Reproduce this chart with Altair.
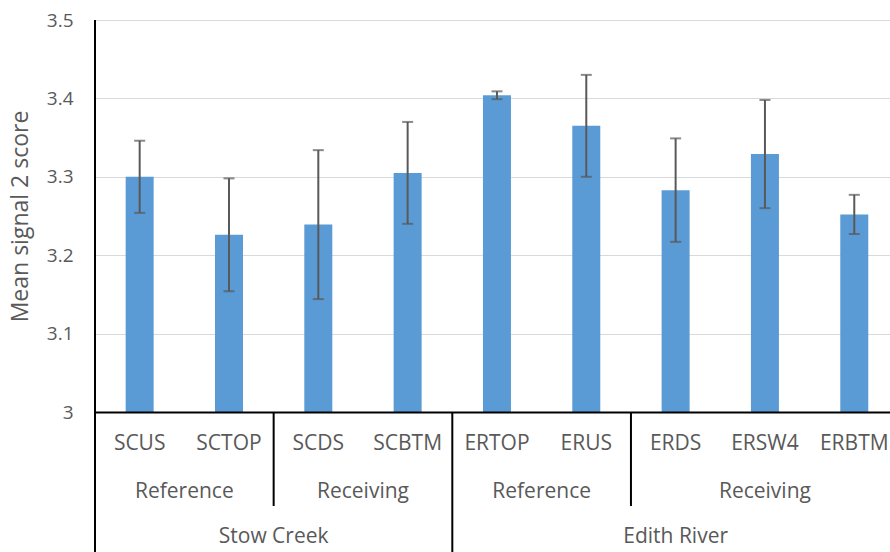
import altair as alt
import pandas as pd

# Sampling sites in plotting order, with their habitat class and river
sites = ["SCUS", "SCTOP", "SCDS", "SCBTM", "ERTOP", "ERUS", "ERDS", "ERSW4", "ERBTM"]
habitats = ["Reference", "Reference", "Receiving", "Receiving",
            "Reference", "Reference", "Receiving", "Receiving", "Receiving"]
rivers = ["Stow Creek"] * 4 + ["Edith River"] * 5

# Mean signal 2 score per site and the half-width of its error bar
means = [3.300, 3.226, 3.239, 3.305, 3.404, 3.365, 3.283, 3.329, 3.252]
errors = [0.046, 0.072, 0.095, 0.065, 0.005, 0.065, 0.066, 0.069, 0.025]

y_ticks = [3.0, 3.1, 3.2, 3.3, 3.4, 3.5]

TEXT = "#595959"
FONT = "Open Sans"
BLUE = "#5B9BD5"

df = pd.DataFrame({
    "site": sites,
    "habitat": habitats,
    "river": rivers,
    "mean": means,
    "err": errors,
})
df["pos"] = range(len(df))
df["lo"] = df["mean"] - df["err"]
df["hi"] = df["mean"] + df["err"]
df["base"] = y_ticks[0]

# Second and third rows of the category axis
hab = (df.groupby(["river", "habitat"], sort=False)
         .agg(pos=("pos", "mean"), end=("pos", "max")).reset_index())
riv = (df.groupby("river", sort=False)
         .agg(pos=("pos", "mean"), end=("pos", "max")).reset_index())

river_edges = sorted(riv["end"] + 0.5)
short_seps = pd.DataFrame({"b": [e + 0.5 for e in hab["end"] if e + 0.5 not in river_edges]})
river_seps = pd.DataFrame({"b": river_edges})
left_edge = pd.DataFrame({"b": [-0.5]})

xscale = alt.Scale(domain=[-0.5, 8.4], nice=False, zero=False, padding=0)
yscale = alt.Scale(domain=[3.0, 3.5], nice=False, zero=False, padding=0)

x = alt.X("pos:Q", scale=xscale,
          axis=alt.Axis(labels=False, ticks=False, grid=False, title=None,
                        domainColor="black", domainWidth=2, zindex=1))

base = alt.Chart(df)

bars = base.mark_bar(size=28, color=BLUE).encode(
    x=x,
    y=alt.Y("mean:Q", scale=yscale,
            axis=alt.Axis(values=y_ticks, labelExpr="format(datum.value, '.2~f')",
                          grid=True, gridColor="#d9d9d9", gridWidth=1,
                          domain=False, ticks=False, tickSize=0,
                          labelFont=FONT, labelFontSize=19, labelColor=TEXT,
                          labelPadding=22,
                          title="Mean signal 2 score", titleFont=FONT,
                          titleFontSize=23, titleColor=TEXT, titleFontWeight="normal",
                          titleAngle=270, titleX=-75, titleY=196,
                          titleAlign="center", titleBaseline="middle")),
    y2="base:Q",
)

whisker = base.mark_rule(color=TEXT, strokeWidth=2).encode(
    x=alt.X("pos:Q", scale=xscale), y=alt.Y("lo:Q", scale=yscale), y2="hi:Q"
)

caps = base.transform_fold(["lo", "hi"], as_=["end", "v"]).mark_tick(
    orient="horizontal", size=11, thickness=2, color=TEXT
).encode(x=alt.X("pos:Q", scale=xscale), y=alt.Y("v:Q", scale=yscale))

label_style = dict(font=FONT, fontSize=21, color=TEXT, baseline="middle")

site_text = base.mark_text(**label_style).encode(
    x=alt.X("pos:Q", scale=xscale), y=alt.value(424), text="site:N"
)

hab_text = alt.Chart(hab).mark_text(**label_style).encode(
    x=alt.X("pos:Q", scale=xscale), y=alt.value(472), text="habitat:N"
)

riv_text = alt.Chart(riv).mark_text(**label_style).encode(
    x=alt.X("pos:Q", scale=xscale), y=alt.value(517), text="river:N"
)

# Dividers between the groups of the category axis
short_lines = alt.Chart(short_seps).mark_rule(color="black", strokeWidth=2).encode(
    x=alt.X("b:Q", scale=xscale), y=alt.value(392), y2=alt.value(486)
)

river_lines = alt.Chart(river_seps).mark_rule(color="black", strokeWidth=2).encode(
    x=alt.X("b:Q", scale=xscale), y=alt.value(392), y2=alt.value(532)
)

left_line = alt.Chart(left_edge).mark_rule(color="black", strokeWidth=2).encode(
    x=alt.X("b:Q", scale=xscale), y=alt.value(0), y2=alt.value(532)
)

chart = alt.layer(
    bars, whisker, caps, site_text, hab_text, riv_text,
    short_lines, river_lines, left_line
).properties(
    width=795,
    height=392,
    autosize=alt.AutoSizeParams(type="none"),
    padding={"left": 95, "top": 20, "right": 0, "bottom": 140},
).configure_view(stroke=None).configure(background="white")

chart.save("out.html", embed_options={"renderer": "svg", "actions": False})
